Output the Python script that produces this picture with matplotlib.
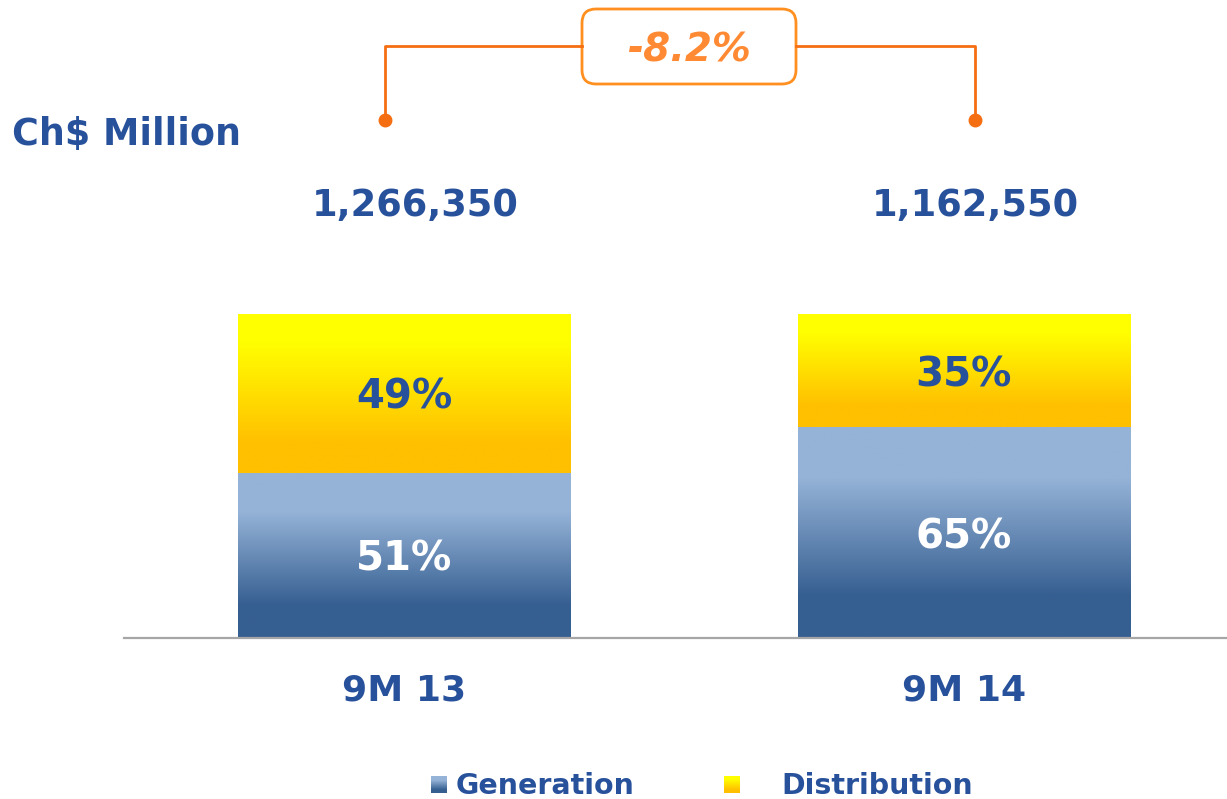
import matplotlib.pyplot as plt
import numpy as np
from matplotlib.colors import LinearSegmentedColormap
from matplotlib.patches import FancyBboxPatch

categories = ['9M 13', '9M 14']
totals = [1266350, 1162550]
generation_pct = [51, 65]
distribution_pct = [49, 35]
unit_label = 'Ch$ Million'
series_names = ['Generation', 'Distribution']

BLUE_TEXT = '#28519C'
ORANGE_LINE = '#F56E12'
ORANGE_BOX = '#FF8F1F'
ORANGE_TEXT = '#FF8A33'

gen_cmap = LinearSegmentedColormap.from_list(
    'gen', [(0, '#365F91'), (0.2, '#365F91'), (0.76, '#95B3D7'), (1, '#95B3D7')])
dist_cmap = LinearSegmentedColormap.from_list(
    'dist', [(0, '#FFC000'), (0.19, '#FFC000'), (0.83, '#FFFF00'), (1, '#FFFF00')])
grad = np.linspace(0, 1, 256)[:, None]

plt.rcParams['font.family'] = ['DejaVu Sans']
plt.rcParams['font.weight'] = 'bold'

W, H = 1227, 799
fig = plt.figure(figsize=(W / 100, H / 100), dpi=100)
ax = fig.add_axes([124 / W, (H - 638) / H, 1103 / W, 324 / H])
for s in ['top', 'left', 'right']:
    ax.spines[s].set_visible(False)
ax.spines['bottom'].set_color('#A6A6A6')
ax.spines['bottom'].set_linewidth(1.6)
ax.set_xticks([])
ax.set_yticks([])

x = np.arange(len(categories))
width = 0.593


def gradient_bars(bars, cmap):
    for rect in bars:
        x0, y0 = rect.get_x(), rect.get_y()
        ax.imshow(grad, cmap=cmap, origin='lower', aspect='auto', interpolation='bilinear',
                  extent=(x0, x0 + rect.get_width(), y0, y0 + rect.get_height()), zorder=2)


gen_bars = ax.bar(x, generation_pct, width, color='none', linewidth=0)
dist_bars = ax.bar(x, distribution_pct, width, bottom=generation_pct, color='none', linewidth=0)
gradient_bars(gen_bars, gen_cmap)
gradient_bars(dist_bars, dist_cmap)
ax.set_xlim(-0.5, 1.47)
ax.set_ylim(0, 100)

for i in range(len(categories)):
    ax.text(x[i], generation_pct[i] / 2, f'{generation_pct[i]}%', ha='center', va='center_baseline',
            color='white', fontsize=29, zorder=3)
    ax.text(x[i], generation_pct[i] + distribution_pct[i] / 2, f'{distribution_pct[i]}%',
            ha='center', va='center_baseline', color=BLUE_TEXT, fontsize=29, zorder=3)
    ax.text(x[i] + 0.021, 134.6, f'{totals[i]:,}', ha='center', va='center_baseline',
            color=BLUE_TEXT, fontsize=26.5, clip_on=False)
    ax.text(x[i], -15.1, categories[i], ha='center', va='center_baseline',
            color=BLUE_TEXT, fontsize=26, clip_on=False)

fig.text(12 / W, 1 - 131 / H, unit_label, ha='left', va='center_baseline',
         color=BLUE_TEXT, fontsize=26.3)

# change bracket on top
over = fig.add_axes([0, 0, 1, 1], zorder=5)
over.set_xlim(0, W)
over.set_ylim(H, 0)
over.axis('off')
over.plot([385, 385, 582], [120, 46, 46], color=ORANGE_LINE, lw=2)
over.plot([796, 975, 975], [46, 46, 120], color=ORANGE_LINE, lw=2)
over.plot([385, 975], [120, 120], 'o', color=ORANGE_LINE, ms=9)
over.add_patch(FancyBboxPatch((582, 9), 214, 75, boxstyle='round,pad=0,rounding_size=14',
                              fc='white', ec=ORANGE_BOX, lw=2))
change = (totals[1] / totals[0] - 1) * 100
over.text(689, 47, f'{change:.1f}%', ha='center', va='center_baseline', color=ORANGE_TEXT,
          fontsize=28, style='italic')

# legend
for sq_x, txt_x, name, cmap in [(431, 456, series_names[0], gen_cmap),
                                (724, 781, series_names[1], dist_cmap)]:
    sq = fig.add_axes([sq_x / W, (H - 793) / H, 16 / W, 17 / H])
    sq.imshow(grad, cmap=cmap, origin='lower', aspect='auto')
    sq.axis('off')
    fig.text(txt_x / W, 1 - 783 / H, name, ha='left', va='center_baseline',
             color=BLUE_TEXT, fontsize=20.5)

fig.savefig('out.png', dpi=100)
